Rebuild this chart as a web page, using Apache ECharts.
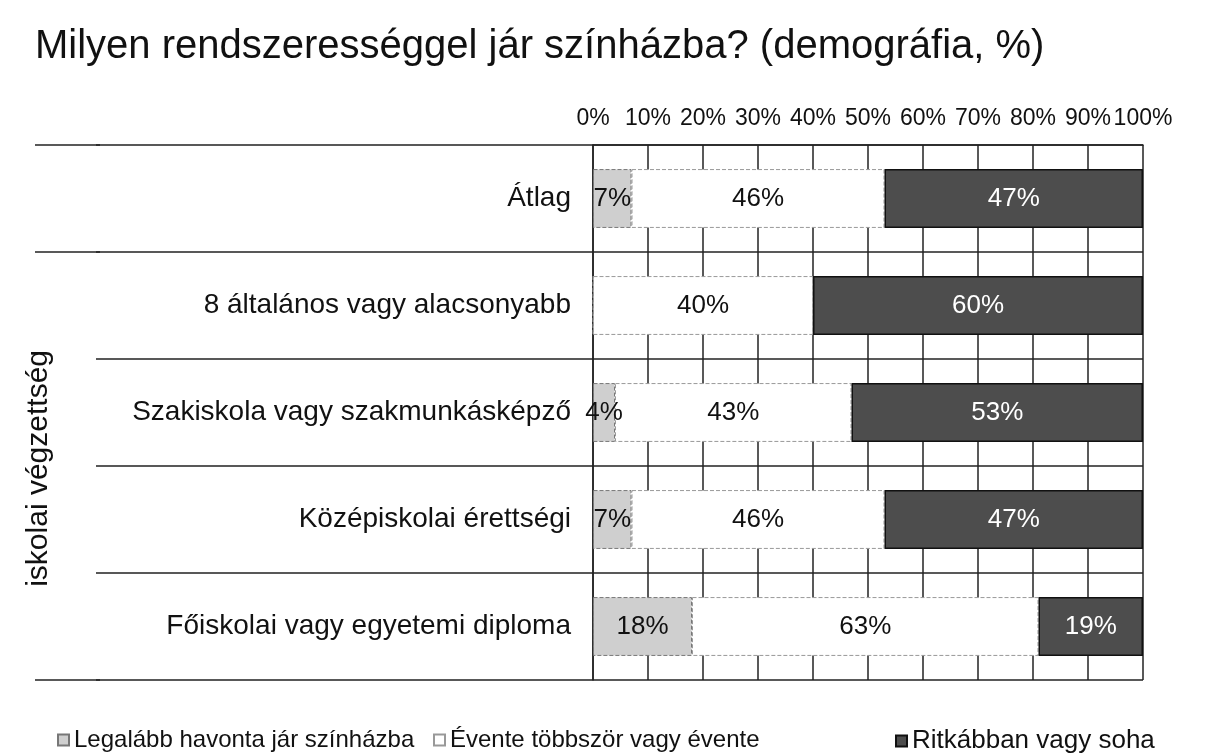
<!DOCTYPE html>
<html>
<head>
<meta charset="utf-8">
<script src="https://cdn.jsdelivr.net/npm/echarts@6/dist/echarts.min.js"></script>
<style>
  html, body { margin: 0; padding: 0; background: #fff; }
  #chart { width: 1208px; height: 754px; }
</style>
</head>
<body>
<div id="chart"></div>
<script>
// kategóriák (felülről lefelé)
var categories = ['Átlag', '8 általános vagy alacsonyabb', 'Szakiskola vagy szakmunkásképző', 'Középiskolai érettségi', 'Főiskolai vagy egyetemi diploma'];
var seriesNames = ['Legalább havonta jár színházba', 'Évente többször vagy évente', 'Ritkábban vagy soha'];
var havonta = [7, 0, 4, 7, 18];
var evente = [46, 40, 43, 46, 63];
var ritkabban = [47, 60, 53, 47, 19];

var chart = echarts.init(document.getElementById('chart'));

var font = 'Liberation Sans, Arial, sans-serif';
var lineCol = '#222';

function label(color) {
    return {
        show: true,
        position: 'inside',
        color: color,
        fontFamily: font,
        fontSize: 26,
        formatter: function (p) { return p.value > 0 ? p.value + '%' : ''; }
    };
}

function legendAt(left, name, size) {
    return {
        top: 723,
        left: left,
        itemWidth: 11,
        itemHeight: 11,
        itemGap: 4,
        icon: 'rect',
        data: [name],
        textStyle: { fontFamily: font, fontSize: size, color: '#111' }
    };
}

var option = {
    backgroundColor: '#fff',
    animation: false,
    title: {
        text: 'Milyen rendszerességgel jár színházba? (demográfia, %)',
        left: 30,
        top: 22,
        textStyle: { fontFamily: font, fontSize: 40, fontWeight: 'normal', color: '#111' }
    },
    legend: [
        legendAt(52, seriesNames[0], 24),
        legendAt(428, seriesNames[1], 24),
        legendAt(890, seriesNames[2], 26)
    ],
    grid: { left: 593, right: 65, top: 145, bottom: 74 },
    xAxis: {
        type: 'value',
        position: 'top',
        min: 0,
        max: 100,
        interval: 10,
        axisLine: { show: true, lineStyle: { color: lineCol, width: 1.5 } },
        axisTick: { show: false },
        axisLabel: {
            fontFamily: font, fontSize: 23, color: '#111', margin: 15,
            formatter: '{value}%', showMinLabel: true, showMaxLabel: true
        },
        splitLine: { show: true, lineStyle: { color: lineCol, width: 1.5 } }
    },
    yAxis: {
        type: 'category',
        inverse: true,
        data: categories,
        axisLine: { show: true, lineStyle: { color: lineCol, width: 1.5 } },
        axisTick: { show: true, length: 497, lineStyle: { color: lineCol, width: 1.5 } },
        axisLabel: { fontFamily: font, fontSize: 28, color: '#111', margin: 22 },
        splitLine: { show: true, lineStyle: { color: lineCol, width: 1.5 } }
    },
    series: [
        {
            name: seriesNames[0], type: 'bar', stack: 'total', barWidth: '55%',
            data: havonta,
            itemStyle: { color: '#cfcfcf', borderColor: '#777', borderWidth: 1, borderType: 'dashed' },
            label: label('#111')
        },
        {
            name: seriesNames[1], type: 'bar', stack: 'total',
            data: evente,
            itemStyle: { color: '#ffffff', borderColor: '#999', borderWidth: 1, borderType: 'dashed' },
            label: label('#111')
        },
        {
            name: seriesNames[2], type: 'bar', stack: 'total',
            data: ritkabban,
            itemStyle: { color: '#4d4d4d', borderColor: '#111', borderWidth: 1.5 },
            label: label('#fff')
        }
    ],
    graphic: [
        {
            type: 'text',
            left: 24,
            top: 350,
            rotation: Math.PI / 2,
            style: { text: 'iskolai végzettség', fontFamily: font, fontSize: 30, fill: '#111' }
        }
    ]
};

chart.setOption(option);

// a felső, második és alsó elválasztó vonal tovább nyúlik balra
var band = chart.convertToPixel({ yAxisIndex: 0 }, 1) - chart.convertToPixel({ yAxisIndex: 0 }, 0);
var edges = [-0.5, 0.5, categories.length - 0.5];
var extra = edges.map(function (e) {
    var y = chart.convertToPixel({ yAxisIndex: 0 }, 0) + e * band;
    return {
        type: 'line',
        shape: { x1: 35, y1: y, x2: 100, y2: y },
        style: { stroke: lineCol, lineWidth: 1.5 }
    };
});
chart.setOption({ graphic: option.graphic.concat(extra) });
</script>
</body>
</html>
